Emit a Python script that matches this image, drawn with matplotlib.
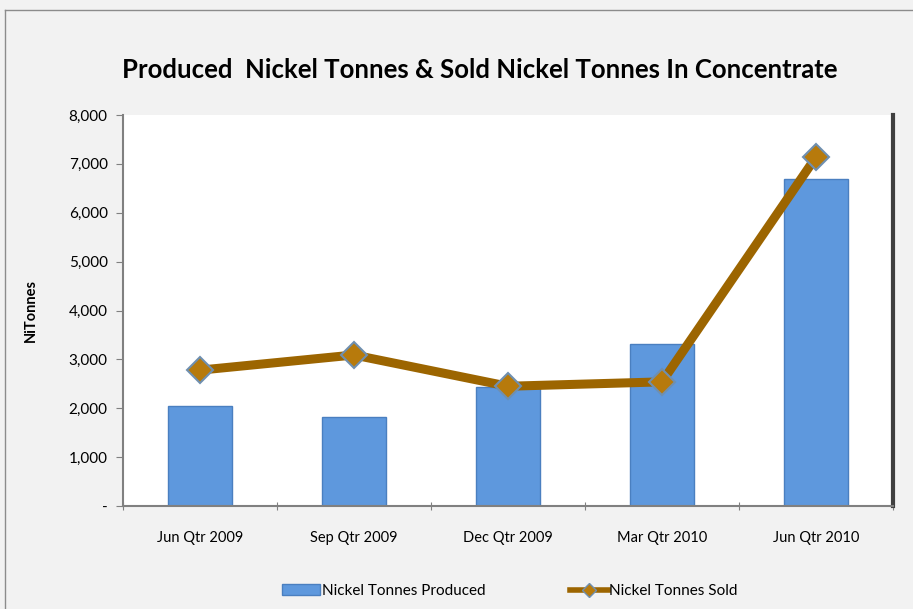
import matplotlib.pyplot as plt
from matplotlib.lines import Line2D
from matplotlib.patches import Patch
from matplotlib.ticker import FuncFormatter

quarters = ['Jun Qtr 2009', 'Sep Qtr 2009', 'Dec Qtr 2009', 'Mar Qtr 2010', 'Jun Qtr 2010']
produced = [2050, 1820, 2430, 3310, 6690]
sold = [2780, 3090, 2450, 2540, 7140]

plt.rcParams['font.family'] = ['Lato', 'DejaVu Sans']

fig = plt.figure(figsize=(9.13, 6.09), dpi=100)
fig.patch.set_facecolor('#f2f2f2')

# outer chart border (top and left edges visible)
fig.add_artist(Line2D([5 / 913, 1], [1 - 10 / 609, 1 - 10 / 609], color='#8c8c8c', lw=1))
fig.add_artist(Line2D([5 / 913, 5 / 913], [0, 1 - 10 / 609], color='#8c8c8c', lw=1))

ax = fig.add_axes([123 / 913, 1 - 506 / 609, 770 / 913, 391 / 609])
ax.set_facecolor('white')

x = range(len(quarters))
ax.bar(x, produced, width=0.41, color='#5e98dd', edgecolor='#4a7fc0', lw=1, zorder=2)
ax.plot(x, sold, color='#9c6500', lw=6.5, marker='D', markersize=13,
        markerfacecolor='#b77a0c', markeredgecolor='#6f8fb0', markeredgewidth=1.5, zorder=3)

ax.set_xlim(-0.5, 4.5)
ax.set_ylim(0, 8000)
ax.set_yticks(range(0, 8001, 1000))
ax.yaxis.set_major_formatter(FuncFormatter(lambda v, p: '-' if v == 0 else f'{int(v):,}'))
ax.set_xticks([i + 0.5 for i in range(-1, 5)], minor=False)
ax.set_xticklabels([])
ax.set_xticks(list(x), minor=True)
ax.set_xticklabels(quarters, minor=True)
ax.tick_params(axis='x', which='minor', length=0, pad=18, labelsize=10.5)
ax.tick_params(axis='x', which='major', length=6, color='#808080', direction='inout')
ax.tick_params(axis='y', length=5, color='#808080', labelsize=11, pad=6)

for s in ['left', 'bottom']:
    ax.spines[s].set_color('#808080')
    ax.spines[s].set_linewidth(1.5)
ax.spines['top'].set_visible(False)
ax.spines['right'].set_color('#404040')
ax.spines['right'].set_linewidth(3)

ax.set_ylabel('NiTonnes', fontsize=10.5, fontweight='bold', labelpad=22)
fig.text(0.525, 1 - 70 / 609, 'Produced  Nickel Tonnes & Sold Nickel Tonnes In Concentrate',
         ha='center', va='center', fontsize=18.5, fontweight='bold')

handles = [Patch(facecolor='#5e98dd', edgecolor='#4a7fc0', label='Nickel Tonnes Produced'),
           Line2D([0], [0], color='#9c6500', lw=4, marker='D', markersize=7,
                  markerfacecolor='#b77a0c', markeredgecolor='#6f8fb0', label='Nickel Tonnes Sold')]
fig.legend(handles=handles, loc='center', bbox_to_anchor=(510 / 913, 1 - 591 / 609), ncol=2,
           frameon=False, fontsize=11, columnspacing=5.5, handlelength=2.5, handletextpad=0.1)

fig.savefig('out.png', dpi=100, facecolor=fig.get_facecolor())
